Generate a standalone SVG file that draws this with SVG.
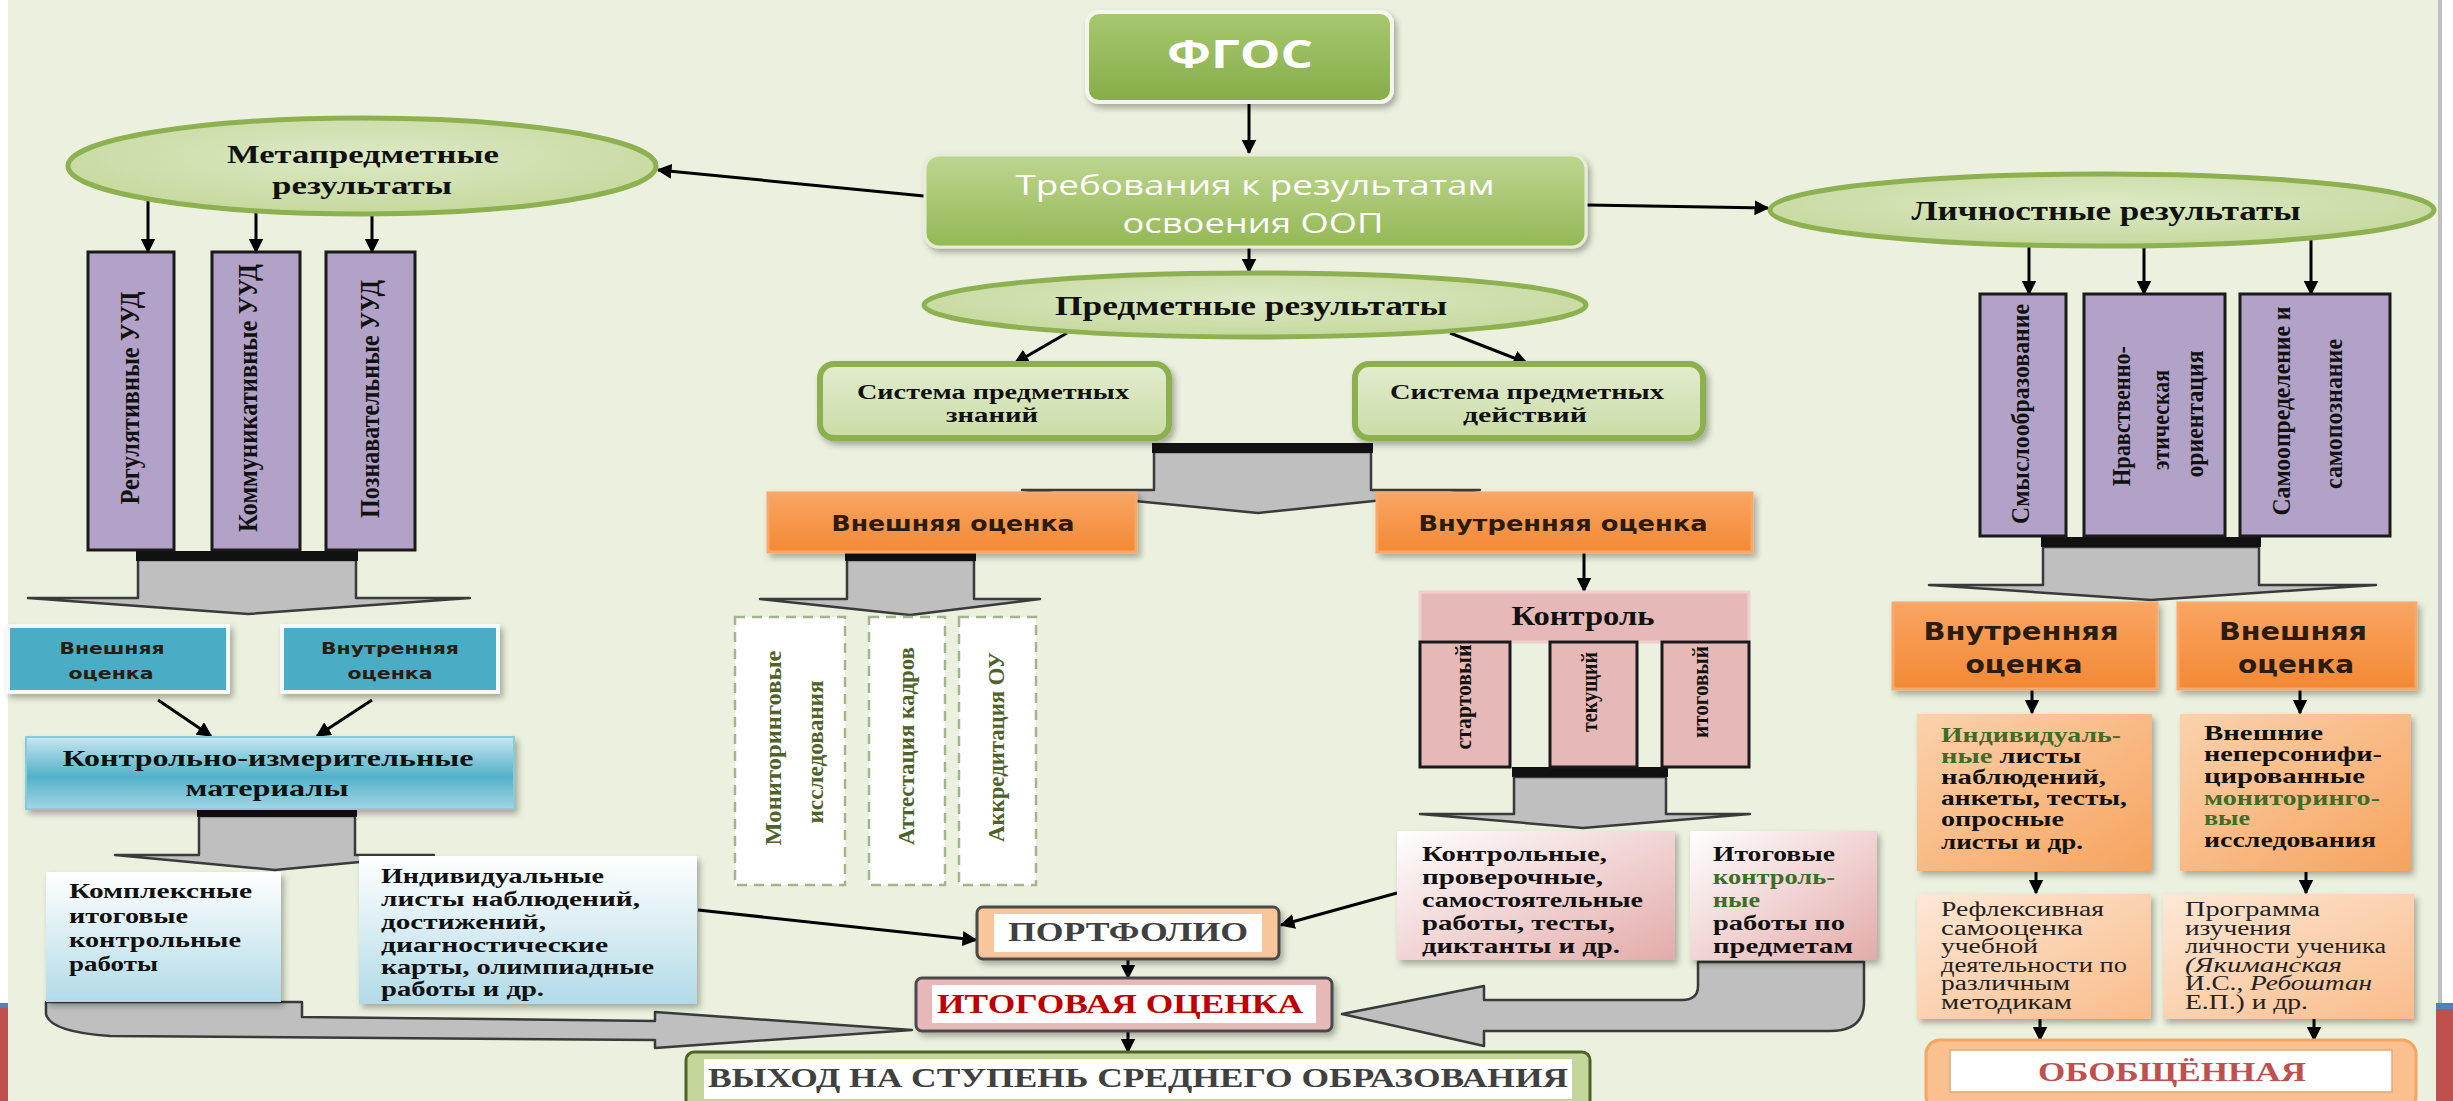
<svg xmlns="http://www.w3.org/2000/svg" width="2453" height="1101" viewBox="0 0 2453 1101">
<defs>
<linearGradient id="gFgos" x1="0" y1="0" x2="0" y2="1"><stop offset="0" stop-color="#A8C870"/><stop offset="1" stop-color="#86AD48"/></linearGradient>
<linearGradient id="gTreb" x1="0" y1="0" x2="0" y2="1"><stop offset="0" stop-color="#BED690"/><stop offset="1" stop-color="#94B855"/></linearGradient>
<radialGradient id="gEll" cx="0.5" cy="0.4" r="0.65"><stop offset="0" stop-color="#DDE9C6"/><stop offset="1" stop-color="#C3D89A"/></radialGradient>
<linearGradient id="gSys" x1="0" y1="0" x2="0" y2="1"><stop offset="0" stop-color="#E2ECCF"/><stop offset="1" stop-color="#CADCA6"/></linearGradient>
<linearGradient id="gOr" x1="0" y1="0" x2="0" y2="1"><stop offset="0" stop-color="#F9A563"/><stop offset="1" stop-color="#F38934"/></linearGradient>
<linearGradient id="gKim" x1="0" y1="0" x2="0" y2="1"><stop offset="0" stop-color="#C8E6EF"/><stop offset="0.55" stop-color="#52B1CA"/><stop offset="1" stop-color="#A2D6E3"/></linearGradient>
<linearGradient id="gLblue" x1="0" y1="0" x2="0" y2="1"><stop offset="0" stop-color="#FFFFFF"/><stop offset="1" stop-color="#B2DBE7"/></linearGradient>
<linearGradient id="gPink" x1="0" y1="0" x2="1" y2="1"><stop offset="0" stop-color="#FFFFFF"/><stop offset="1" stop-color="#E3ABAA"/></linearGradient>
<linearGradient id="gOrL" x1="0" y1="0" x2="1" y2="1"><stop offset="0" stop-color="#FBD2AC"/><stop offset="1" stop-color="#F6A35E"/></linearGradient>
<linearGradient id="gPeach" x1="0" y1="0" x2="1" y2="1"><stop offset="0" stop-color="#FDE8D6"/><stop offset="1" stop-color="#F9BC8A"/></linearGradient>
<filter id="sh" x="-10%" y="-10%" width="130%" height="140%"><feDropShadow dx="3" dy="4" stdDeviation="3" flood-color="#000" flood-opacity="0.3"/></filter>
<marker id="ah" viewBox="0 0 10 10" refX="9" refY="5" markerWidth="5" markerHeight="5" orient="auto" markerUnits="strokeWidth"><path d="M0,0 L10,5 L0,10 z" fill="#000"/></marker>
<style>
text{dominant-baseline:central}
.sb{font-family:"Liberation Serif","Times New Roman",serif;font-weight:bold;fill:#111}
.sr{font-family:"Liberation Serif","Times New Roman",serif;fill:#222}
.vs{font-family:"DejaVu Sans",Verdana,sans-serif;font-weight:bold;fill:#2a1c10}
.os{font-family:"Open Sans","Liberation Sans",sans-serif;fill:#fff}
.gr{fill:#3C6E28}
.ln{stroke:#000;stroke-width:3;fill:none;marker-end:url(#ah)}
.ba{fill:#BFBFBF;stroke:#3a3a3a;stroke-width:2.5;stroke-linejoin:round}
.bar{fill:#111}
.pur{fill:#B3A2C7;stroke:#1a1a1a;stroke-width:3}
.pk{fill:#E6B9B8;stroke:#1a1a1a;stroke-width:3}
.ell{fill:url(#gEll);stroke:#8DB050;stroke-width:5}
.sys{fill:url(#gSys);stroke:#8CB050;stroke-width:6}
.or{fill:url(#gOr);stroke:#F7A86A;stroke-width:3}
.bl{fill:#4BACC6;stroke:#F4FAFC;stroke-width:4}
.dash{fill:#fff;stroke:#A3B58A;stroke-width:2.5;stroke-dasharray:10 7}
.dol{fill:#4F6228}
</style>
</defs>

<rect x="0" y="0" width="2453" height="1101" fill="#EBF1DE"/>
<rect x="0" y="0" width="8" height="1003" fill="#FFFFFF"/>
<rect x="0" y="1003" width="8" height="5" fill="#4F81BD"/>
<rect x="0" y="1008" width="8" height="93" fill="#C0504D"/>
<rect x="2438" y="0" width="4" height="1101" fill="#BFBFBF"/>
<rect x="2442" y="0" width="11" height="1003" fill="#FFFFFF"/>
<rect x="2436" y="1003" width="17" height="6" fill="#4F81BD"/>
<rect x="2436" y="1009" width="17" height="92" fill="#C0504D"/>

<g id="connectors">
<line class="ln" x1="1249" y1="102" x2="1249" y2="153"/>
<line class="ln" x1="924" y1="196" x2="658" y2="170"/>
<line class="ln" x1="1587" y1="205" x2="1768" y2="208"/>
<line class="ln" x1="1249" y1="248" x2="1249" y2="272"/>
<line class="ln" x1="1067" y1="333" x2="1015" y2="363"/>
<line class="ln" x1="1450" y1="333" x2="1527" y2="363"/>
<line class="ln" x1="148" y1="201" x2="148" y2="252"/>
<line class="ln" x1="256" y1="212" x2="256" y2="252"/>
<line class="ln" x1="372" y1="214" x2="372" y2="252"/>
<line class="ln" x1="2029" y1="246" x2="2029" y2="294"/>
<line class="ln" x1="2144" y1="246" x2="2144" y2="294"/>
<line class="ln" x1="2311" y1="240" x2="2311" y2="294"/>
<line class="ln" x1="158" y1="700" x2="211" y2="736"/>
<line class="ln" x1="372" y1="700" x2="317" y2="736"/>
<line class="ln" x1="1584" y1="552" x2="1584" y2="591"/>
<line class="ln" x1="698" y1="910" x2="976" y2="940"/>
<line class="ln" x1="1397" y1="893" x2="1281" y2="925"/>
<line class="ln" x1="1128" y1="959" x2="1128" y2="978"/>
<line class="ln" x1="1128" y1="1031" x2="1128" y2="1052"/>
<line class="ln" x1="2032" y1="689" x2="2032" y2="713"/>
<line class="ln" x1="2300" y1="689" x2="2300" y2="713"/>
<line class="ln" x1="2036" y1="872" x2="2036" y2="893"/>
<line class="ln" x1="2306" y1="872" x2="2306" y2="893"/>
<line class="ln" x1="2040" y1="1019" x2="2040" y2="1040"/>
<line class="ln" x1="2314" y1="1019" x2="2314" y2="1040"/>

<polygon class="ba" points="138,560 138,598 28,598 248,614 470,598 356,598 356,560"/>
<rect class="bar" x="136" y="551" width="222" height="10"/>
<polygon class="ba" points="1154,452 1154,490 1022,490 1258,513 1480,490 1371,490 1371,452"/>
<rect class="bar" x="1152" y="443" width="221" height="10"/>
<polygon class="ba" points="847,560 847,599 760,599 910,615 1040,599 974,599 974,560"/>
<rect class="bar" x="845" y="553" width="131" height="8"/>
<polygon class="ba" points="199,816 199,855 115,855 275,870 434,855 355,855 355,816"/>
<rect class="bar" x="197" y="809" width="160" height="8"/>
<polygon class="ba" points="1514,777 1514,814 1420,814 1583,828 1750,814 1666,814 1666,777"/>
<rect class="bar" x="1512" y="767" width="156" height="10"/>
<polygon class="ba" points="2043,547 2043,585 1929,585 2151,600 2376,585 2259,585 2259,547"/>
<rect class="bar" x="2041" y="537" width="220" height="10"/>
<path class="ba" d="M46,1002 L302,1002 L302,1017 L655,1021 L655,1012 L912,1030 L655,1048 L655,1040 L110,1036 Q50,1032 46,1014 Z"/>
<path class="ba" d="M1698,962 L1864,962 L1864,1002 Q1864,1031 1830,1031 L1484,1031 L1484,1046 L1342,1014 L1484,986 L1484,1000 L1682,1000 Q1698,1000 1698,986 Z"/>
</g>

<g id="fgos">
<rect x="1087" y="12" width="305" height="90" rx="12" fill="url(#gFgos)" stroke="#F3F6EC" stroke-width="4" filter="url(#sh)"/>
<text class="os" x="1240" y="52" font-size="40" font-weight="bold" text-anchor="middle" textLength="146" lengthAdjust="spacingAndGlyphs">ФГОС</text>
</g>

<g id="treb">
<rect x="925" y="155" width="661" height="92" rx="14" fill="url(#gTreb)" stroke="#E6EDD6" stroke-width="3" filter="url(#sh)"/>
<text class="os" x="1255" y="184" font-size="27" text-anchor="middle" textLength="479" lengthAdjust="spacingAndGlyphs">Требования к результатам</text>
<text class="os" x="1253" y="222" font-size="27" text-anchor="middle" textLength="261" lengthAdjust="spacingAndGlyphs">освоения ООП</text>
</g>

<g id="meta">
<ellipse class="ell" cx="362" cy="166" rx="294" ry="48"/>
<text class="sb" x="363" y="154" font-size="25" text-anchor="middle" textLength="272" lengthAdjust="spacingAndGlyphs">Метапредметные</text>
<text class="sb" x="362" y="185" font-size="25" text-anchor="middle" textLength="180" lengthAdjust="spacingAndGlyphs">результаты</text>
</g>

<g id="predm">
<ellipse class="ell" cx="1255" cy="305" rx="331" ry="32"/>
<text class="sb" x="1251" y="306" font-size="27" text-anchor="middle" textLength="392" lengthAdjust="spacingAndGlyphs">Предметные результаты</text>
</g>

<g id="lichn">
<ellipse class="ell" cx="2102" cy="210" rx="332" ry="36"/>
<text class="sb" x="2106" y="211" font-size="27" text-anchor="middle" textLength="389" lengthAdjust="spacingAndGlyphs">Личностные результаты</text>
</g>

<g id="sys-znaniy">
<rect class="sys" x="820" y="364" width="349" height="74" rx="14" filter="url(#sh)"/>
<text class="sb" x="993" y="392" font-size="20" text-anchor="middle" textLength="272" lengthAdjust="spacingAndGlyphs">Система предметных</text>
<text class="sb" x="992" y="415" font-size="20" text-anchor="middle" textLength="92" lengthAdjust="spacingAndGlyphs">знаний</text>
</g>
<g id="sys-deystviy">
<rect class="sys" x="1355" y="364" width="348" height="74" rx="14" filter="url(#sh)"/>
<text class="sb" x="1527" y="392" font-size="20" text-anchor="middle" textLength="274" lengthAdjust="spacingAndGlyphs">Система предметных</text>
<text class="sb" x="1525" y="415" font-size="20" text-anchor="middle" textLength="124" lengthAdjust="spacingAndGlyphs">действий</text>
</g>

<g id="uud-reg">
<rect class="pur" x="88" y="252" width="86" height="298"/>
<text class="sb" transform="translate(129,398) rotate(-90)" font-size="28" text-anchor="middle" textLength="213" lengthAdjust="spacingAndGlyphs">Регулятивные УУД</text>
</g>
<g id="uud-kom">
<rect class="pur" x="212" y="252" width="88" height="298"/>
<text class="sb" transform="translate(247,398) rotate(-90)" font-size="28" text-anchor="middle" textLength="268" lengthAdjust="spacingAndGlyphs">Коммуникативные УУД</text>
</g>
<g id="uud-poz">
<rect class="pur" x="326" y="252" width="89" height="298"/>
<text class="sb" transform="translate(369,399) rotate(-90)" font-size="28" text-anchor="middle" textLength="238" lengthAdjust="spacingAndGlyphs">Познавательные УУД</text>
</g>

<g id="blue-vnesh">
<rect class="bl" x="8" y="626" width="220" height="66" filter="url(#sh)"/>
<text class="vs" x="112" y="648" font-size="16" text-anchor="middle" textLength="105" lengthAdjust="spacingAndGlyphs">Внешняя</text>
<text class="vs" x="111" y="673" font-size="16" text-anchor="middle" textLength="85" lengthAdjust="spacingAndGlyphs">оценка</text>
</g>
<g id="blue-vnutr">
<rect class="bl" x="282" y="626" width="216" height="66" filter="url(#sh)"/>
<text class="vs" x="390" y="648" font-size="16" text-anchor="middle" textLength="138" lengthAdjust="spacingAndGlyphs">Внутренняя</text>
<text class="vs" x="390" y="673" font-size="16" text-anchor="middle" textLength="85" lengthAdjust="spacingAndGlyphs">оценка</text>
</g>

<g id="kim">
<rect x="26" y="737" width="488" height="72" fill="url(#gKim)" stroke="#8ACBDB" stroke-width="2" filter="url(#sh)"/>
<text class="sb" x="268" y="758" font-size="24" text-anchor="middle" textLength="411" lengthAdjust="spacingAndGlyphs">Контрольно-измерительные</text>
<text class="sb" x="267" y="788" font-size="24" text-anchor="middle" textLength="163" lengthAdjust="spacingAndGlyphs">материалы</text>
</g>

<g id="kompleks">
<rect x="46" y="872" width="235" height="130" fill="url(#gLblue)" filter="url(#sh)"/>
<text class="sb" x="69" y="890" font-size="22" textLength="183" lengthAdjust="spacingAndGlyphs">Комплексные</text>
<text class="sb" x="69" y="915" font-size="22" textLength="119" lengthAdjust="spacingAndGlyphs">итоговые</text>
<text class="sb" x="69" y="939" font-size="22" textLength="172" lengthAdjust="spacingAndGlyphs">контрольные</text>
<text class="sb" x="69" y="963" font-size="22" textLength="89" lengthAdjust="spacingAndGlyphs">работы</text>
</g>

<g id="individ-left">
<rect x="359" y="856" width="338" height="148" fill="url(#gLblue)" filter="url(#sh)"/>
<text class="sb" x="381" y="875" font-size="22" textLength="223" lengthAdjust="spacingAndGlyphs">Индивидуальные</text>
<text class="sb" x="381" y="898" font-size="22" textLength="259" lengthAdjust="spacingAndGlyphs">листы наблюдений,</text>
<text class="sb" x="381" y="921" font-size="22" textLength="165" lengthAdjust="spacingAndGlyphs">достижений,</text>
<text class="sb" x="381" y="944" font-size="22" textLength="227" lengthAdjust="spacingAndGlyphs">диагностические</text>
<text class="sb" x="381" y="966" font-size="22" textLength="273" lengthAdjust="spacingAndGlyphs">карты, олимпиадные</text>
<text class="sb" x="381" y="988" font-size="22" textLength="163" lengthAdjust="spacingAndGlyphs">работы  и др.</text>
</g>

<g id="vnesh-center">
<rect class="or" x="768" y="493" width="368" height="59" filter="url(#sh)"/>
<text class="vs" x="953" y="523" font-size="22" text-anchor="middle" textLength="243" lengthAdjust="spacingAndGlyphs">Внешняя оценка</text>
</g>
<g id="vnutr-center">
<rect class="or" x="1377" y="493" width="375" height="59" filter="url(#sh)"/>
<text class="vs" x="1563" y="523" font-size="22" text-anchor="middle" textLength="289" lengthAdjust="spacingAndGlyphs">Внутренняя оценка</text>
</g>

<g id="monitoring">
<rect class="dash" x="735" y="617" width="110" height="268"/>
<text class="sb dol" transform="translate(773,748) rotate(-90)" font-size="24" text-anchor="middle" textLength="195" lengthAdjust="spacingAndGlyphs">Мониторинговые</text>
<text class="sb dol" transform="translate(815,752) rotate(-90)" font-size="24" text-anchor="middle" textLength="143" lengthAdjust="spacingAndGlyphs">исследования</text>
</g>
<g id="attestaciya">
<rect class="dash" x="869" y="617" width="76" height="268"/>
<text class="sb dol" transform="translate(906,746) rotate(-90)" font-size="24" text-anchor="middle" textLength="198" lengthAdjust="spacingAndGlyphs">Аттестация кадров</text>
</g>
<g id="akkreditaciya">
<rect class="dash" x="959" y="617" width="77" height="268"/>
<text class="sb dol" transform="translate(996,747) rotate(-90)" font-size="24" text-anchor="middle" textLength="190" lengthAdjust="spacingAndGlyphs">Аккредитация ОУ</text>
</g>

<g id="kontrol">
<rect x="1420" y="592" width="329" height="50" fill="#E6B9B8" stroke="#F0D0CF" stroke-width="3"/>
<text class="sb" x="1583" y="615" font-size="28" text-anchor="middle" textLength="143" lengthAdjust="spacingAndGlyphs">Контроль</text>
</g>
<g id="startovy">
<rect class="pk" x="1420" y="642" width="90" height="125"/>
<text class="sb" transform="translate(1463,697) rotate(-90)" font-size="24" text-anchor="middle" textLength="105" lengthAdjust="spacingAndGlyphs">стартовый</text>
</g>
<g id="tekushchy">
<rect class="pk" x="1550" y="642" width="87" height="125"/>
<text class="sb" transform="translate(1589,692) rotate(-90)" font-size="24" text-anchor="middle" textLength="80" lengthAdjust="spacingAndGlyphs">текущий</text>
</g>
<g id="itogovy">
<rect class="pk" x="1662" y="642" width="87" height="125"/>
<text class="sb" transform="translate(1700,692) rotate(-90)" font-size="24" text-anchor="middle" textLength="92" lengthAdjust="spacingAndGlyphs">итоговый</text>
</g>

<g id="kontr-raboty">
<rect x="1397" y="831" width="278" height="129" fill="url(#gPink)" filter="url(#sh)"/>
<text class="sb" x="1422" y="853" font-size="22" textLength="185" lengthAdjust="spacingAndGlyphs">Контрольные,</text>
<text class="sb" x="1422" y="876" font-size="22" textLength="181" lengthAdjust="spacingAndGlyphs">проверочные,</text>
<text class="sb" x="1422" y="899" font-size="22" textLength="221" lengthAdjust="spacingAndGlyphs">самостоятельные</text>
<text class="sb" x="1422" y="922" font-size="22" textLength="193" lengthAdjust="spacingAndGlyphs">работы,  тесты,</text>
<text class="sb" x="1422" y="945" font-size="22" textLength="198" lengthAdjust="spacingAndGlyphs">диктанты и др.</text>
</g>
<g id="itog-raboty">
<rect x="1690" y="831" width="187" height="129" fill="url(#gPink)" filter="url(#sh)"/>
<text class="sb" x="1713" y="853" font-size="22" textLength="122" lengthAdjust="spacingAndGlyphs">Итоговые</text>
<text class="sb gr" x="1713" y="876" font-size="22" textLength="122" lengthAdjust="spacingAndGlyphs">контроль-</text>
<text class="sb gr" x="1713" y="899" font-size="22" textLength="47" lengthAdjust="spacingAndGlyphs">ные</text>
<text class="sb" x="1713" y="922" font-size="22" textLength="132" lengthAdjust="spacingAndGlyphs">работы по</text>
<text class="sb" x="1713" y="945" font-size="22" textLength="140" lengthAdjust="spacingAndGlyphs">предметам</text>
</g>

<g id="portfolio">
<rect x="977" y="907" width="302" height="52" rx="6" fill="#F9C59A" stroke="#4a4a4a" stroke-width="3" filter="url(#sh)"/>
<rect x="994" y="914" width="268" height="38" fill="#FFFFFF"/>
<text class="sb" x="1128" y="932" font-size="27" text-anchor="middle" style="fill:#404040" textLength="240" lengthAdjust="spacingAndGlyphs">ПОРТФОЛИО</text>
</g>
<g id="itog-ocenka">
<rect x="916" y="978" width="416" height="53" rx="6" fill="#E6B9B8" stroke="#4a4a4a" stroke-width="3" filter="url(#sh)"/>
<rect x="932" y="985" width="384" height="38" fill="#FFFFFF"/>
<text class="sb" x="1120" y="1003" font-size="28" text-anchor="middle" style="fill:#C00000" textLength="366" lengthAdjust="spacingAndGlyphs">ИТОГОВАЯ ОЦЕНКА</text>
</g>
<g id="vyhod">
<rect x="686" y="1052" width="904" height="60" rx="8" fill="#C4D79B" stroke="#4F6228" stroke-width="3"/>
<rect x="704" y="1059" width="868" height="40" fill="#FFFFFF"/>
<text class="sb" x="1138" y="1077" font-size="28" text-anchor="middle" style="fill:#404040" textLength="860" lengthAdjust="spacingAndGlyphs">ВЫХОД НА СТУПЕНЬ СРЕДНЕГО ОБРАЗОВАНИЯ</text>
</g>

<g id="smysl">
<rect class="pur" x="1980" y="294" width="86" height="242"/>
<text class="sb" transform="translate(2020,414) rotate(-90)" font-size="26" text-anchor="middle" textLength="220" lengthAdjust="spacingAndGlyphs">Смыслообразование</text>
</g>
<g id="nravstv">
<rect class="pur" x="2084" y="294" width="141" height="242"/>
<text class="sb" transform="translate(2121,416) rotate(-90)" font-size="26" text-anchor="middle" textLength="140" lengthAdjust="spacingAndGlyphs">Нравственно-</text>
<text class="sb" transform="translate(2160,420) rotate(-90)" font-size="26" text-anchor="middle" textLength="100" lengthAdjust="spacingAndGlyphs">этическая</text>
<text class="sb" transform="translate(2194,414) rotate(-90)" font-size="26" text-anchor="middle" textLength="127" lengthAdjust="spacingAndGlyphs">ориентация</text>
</g>
<g id="samoopr">
<rect class="pur" x="2240" y="294" width="150" height="242"/>
<text class="sb" transform="translate(2281,411) rotate(-90)" font-size="26" text-anchor="middle" textLength="209" lengthAdjust="spacingAndGlyphs">Самоопределение и</text>
<text class="sb" transform="translate(2333,414) rotate(-90)" font-size="26" text-anchor="middle" textLength="150" lengthAdjust="spacingAndGlyphs">самопознание</text>
</g>

<g id="vnutr-right">
<rect class="or" x="1893" y="603" width="264" height="86" filter="url(#sh)"/>
<text class="vs" x="2021" y="632" font-size="24" text-anchor="middle" textLength="195" lengthAdjust="spacingAndGlyphs">Внутренняя</text>
<text class="vs" x="2024" y="665" font-size="24" text-anchor="middle" textLength="117" lengthAdjust="spacingAndGlyphs">оценка</text>
</g>
<g id="vnesh-right">
<rect class="or" x="2178" y="603" width="238" height="86" filter="url(#sh)"/>
<text class="vs" x="2293" y="632" font-size="24" text-anchor="middle" textLength="148" lengthAdjust="spacingAndGlyphs">Внешняя</text>
<text class="vs" x="2296" y="665" font-size="24" text-anchor="middle" textLength="116" lengthAdjust="spacingAndGlyphs">оценка</text>
</g>

<g id="individ-right">
<rect x="1917" y="714" width="235" height="157" fill="url(#gOrL)" filter="url(#sh)"/>
<text class="sb gr" x="1941" y="735" font-size="21" textLength="180" lengthAdjust="spacingAndGlyphs">Индивидуаль-</text>
<text class="sb" x="1941" y="756" font-size="21" textLength="140" lengthAdjust="spacingAndGlyphs"><tspan class="gr">ные</tspan> листы</text>
<text class="sb" x="1941" y="777" font-size="21" textLength="165" lengthAdjust="spacingAndGlyphs">наблюдений,</text>
<text class="sb" x="1941" y="798" font-size="21" textLength="186" lengthAdjust="spacingAndGlyphs">анкеты,  тесты,</text>
<text class="sb" x="1941" y="819" font-size="21" textLength="123" lengthAdjust="spacingAndGlyphs">опросные</text>
<text class="sb" x="1941" y="842" font-size="21" textLength="142" lengthAdjust="spacingAndGlyphs">листы и др.</text>
</g>
<g id="vneshnie-right">
<rect x="2180" y="714" width="231" height="157" fill="url(#gOrL)" filter="url(#sh)"/>
<text class="sb" x="2204" y="733" font-size="21" textLength="119" lengthAdjust="spacingAndGlyphs">Внешние</text>
<text class="sb" x="2204" y="754" font-size="21" textLength="178" lengthAdjust="spacingAndGlyphs">неперсонифи-</text>
<text class="sb" x="2204" y="776" font-size="21" textLength="161" lengthAdjust="spacingAndGlyphs">цированные</text>
<text class="sb gr" x="2204" y="798" font-size="21" textLength="176" lengthAdjust="spacingAndGlyphs">мониторинго-</text>
<text class="sb gr" x="2204" y="818" font-size="21" textLength="46" lengthAdjust="spacingAndGlyphs">вые</text>
<text class="sb" x="2204" y="840" font-size="21" textLength="172" lengthAdjust="spacingAndGlyphs">исследования</text>
</g>

<g id="refleks">
<rect x="1917" y="894" width="234" height="125" fill="url(#gPeach)" filter="url(#sh)"/>
<text class="sr" x="1941" y="909" font-size="20" textLength="163" lengthAdjust="spacingAndGlyphs">Рефлексивная</text>
<text class="sr" x="1941" y="928" font-size="20" textLength="142" lengthAdjust="spacingAndGlyphs">самооценка</text>
<text class="sr" x="1941" y="946" font-size="20" textLength="97" lengthAdjust="spacingAndGlyphs">учебной</text>
<text class="sr" x="1941" y="965" font-size="20" textLength="186" lengthAdjust="spacingAndGlyphs">деятельности по</text>
<text class="sr" x="1941" y="983" font-size="20" textLength="129" lengthAdjust="spacingAndGlyphs">различным</text>
<text class="sr" x="1941" y="1002" font-size="20" textLength="131" lengthAdjust="spacingAndGlyphs">методикам</text>
</g>
<g id="programma">
<rect x="2163" y="894" width="251" height="125" fill="url(#gPeach)" filter="url(#sh)"/>
<text class="sr" x="2185" y="909" font-size="20" textLength="135" lengthAdjust="spacingAndGlyphs">Программа</text>
<text class="sr" x="2185" y="928" font-size="20" textLength="106" lengthAdjust="spacingAndGlyphs">изучения</text>
<text class="sr" x="2185" y="946" font-size="20" textLength="201" lengthAdjust="spacingAndGlyphs">личности ученика</text>
<text class="sr" x="2185" y="965" font-size="20" font-style="italic" textLength="157" lengthAdjust="spacingAndGlyphs">(Якиманская</text>
<text class="sr" x="2185" y="983" font-size="20" textLength="187" lengthAdjust="spacingAndGlyphs">И.С., <tspan font-style="italic">Ребоштан</tspan></text>
<text class="sr" x="2185" y="1002" font-size="20" textLength="123" lengthAdjust="spacingAndGlyphs">Е.П.) и др.</text>
</g>

<g id="obobsh">
<rect x="1926" y="1040" width="490" height="70" rx="14" fill="#FAC090" stroke="#F5A55F" stroke-width="3"/>
<rect x="1950" y="1050" width="442" height="42" fill="#FFFFFF" stroke="#E6A673" stroke-width="1.5"/>
<text class="sb" x="2172" y="1071" font-size="28" text-anchor="middle" style="fill:#C0504D" textLength="268" lengthAdjust="spacingAndGlyphs">ОБОБЩЁННАЯ</text>
</g>
</svg>
